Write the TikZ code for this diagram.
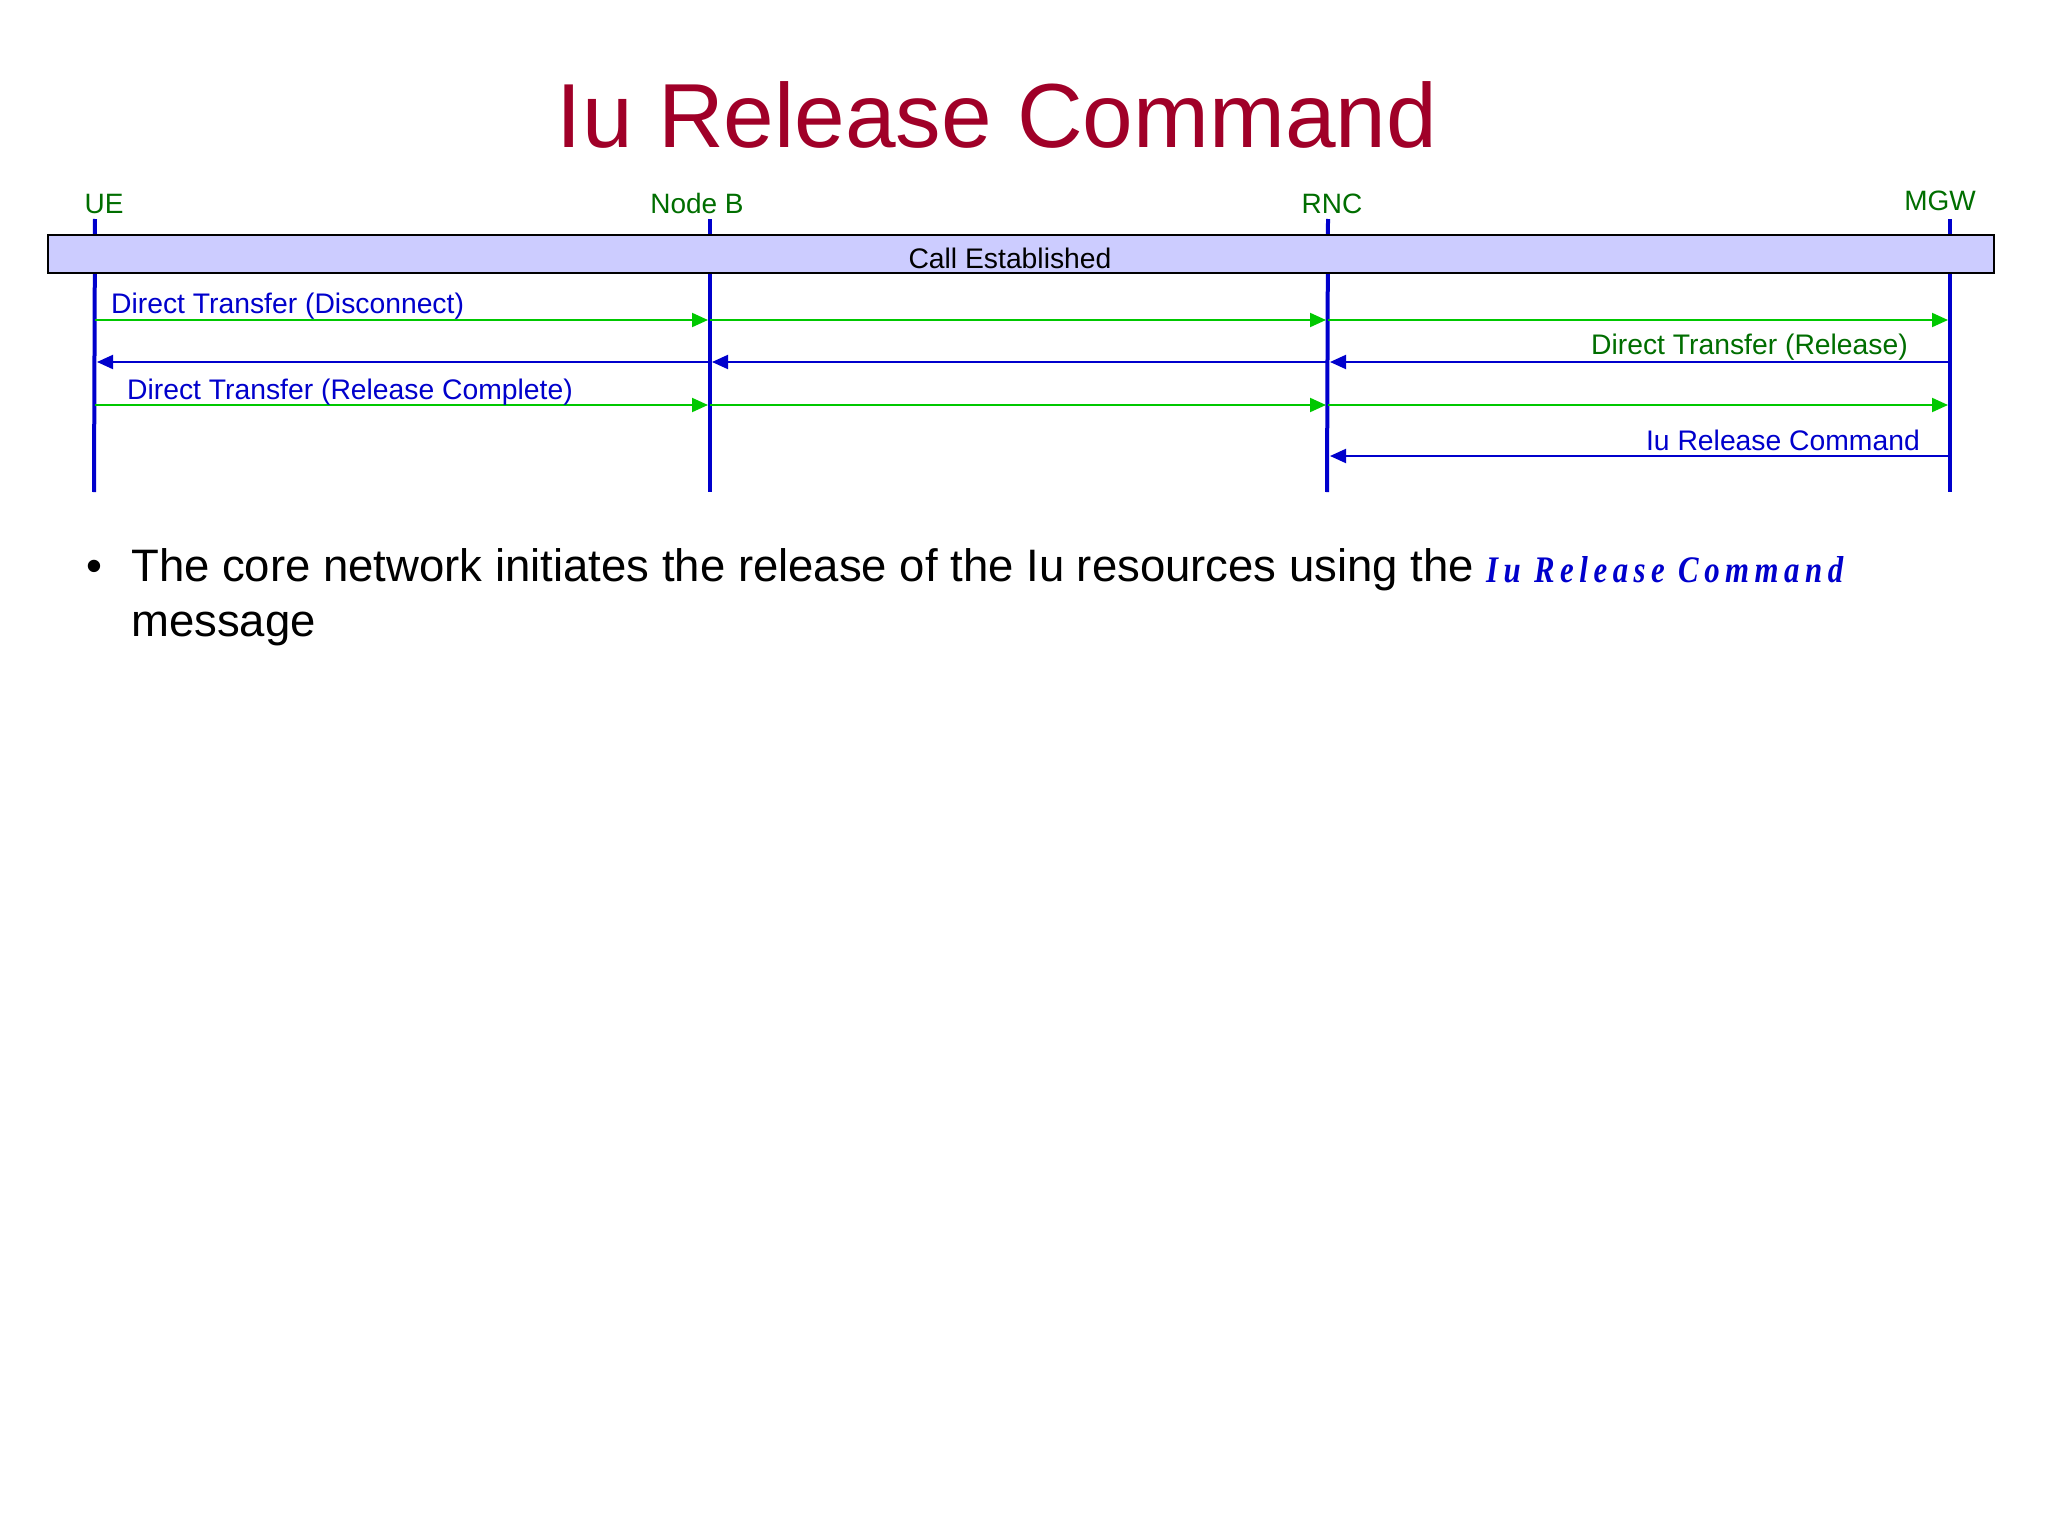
\documentclass[tikz,border=0pt]{standalone}
\usepackage{fontspec}
\setmainfont{Liberation Sans}
\newfontfamily\fancyfont[LetterSpace=18]{Liberation Serif}
\usetikzlibrary{arrows.meta}
\definecolor{titlered}{RGB}{160,0,40}
\definecolor{lifeblue}{RGB}{0,0,204}
\definecolor{msggreen}{RGB}{0,200,0}
\definecolor{lblgreen}{RGB}{0,110,0}
\definecolor{boxfill}{RGB}{204,204,255}
\begin{document}
\begin{tikzpicture}[x=1pt,y=-1pt,
  lifeline/.style={draw=lifeblue,line width=4pt},
  actor/.style={text=lblgreen,font=\fontsize{28}{32}\selectfont,inner sep=0pt,anchor=base},
  msglbl/.style={font=\fontsize{28.3}{32}\selectfont,inner sep=0pt},
  fwd/.style={draw=msggreen,line width=2pt,-{Triangle[length=16pt,width=14pt]},shorten >=2pt},
  back/.style={draw=lifeblue,line width=2pt,-{Triangle[length=16pt,width=14pt]},shorten >=2pt},
  body/.style={font=\fontsize{45.5}{55}\selectfont,inner sep=0pt,anchor=base west}
]
\useasboundingbox[fill=white] (0,0) rectangle (2048,1536);

% title
\node[text=titlered,font=\fontsize{91}{100}\selectfont,inner sep=0pt,anchor=base] (title) at (997,148) {Iu Release Command};

% actors
\node[actor] (ueL) at (104,213) {UE};
\node[actor] (nbL) at (697,213) {Node B};
\node[actor] (rncL) at (1332,213) {RNC};
\node[actor] (mgwL) at (1940,210) {MGW};

% lifelines
\coordinate (ueT) at (95,219);   \coordinate (ueB) at (94,492);
\coordinate (nbT) at (710,219);  \coordinate (nbB) at (710,492);
\coordinate (rncT) at (1328,219); \coordinate (rncB) at (1327,492);
\coordinate (mgwT) at (1950,219); \coordinate (mgwB) at (1950,492);
\draw[lifeline] (ueT) -- (ueB);
\draw[lifeline] (nbT) -- (nbB);
\draw[lifeline] (rncT) -- (rncB);
\draw[lifeline] (mgwT) -- (mgwB);

% call established box
\draw[fill=boxfill,draw=black,line width=2pt] (48,235) rectangle (1994,273);
\node[msglbl,anchor=base] (callest) at (1010,268) {Call Established};

% message rows
\foreach \n/\y in {1/320,2/362,3/405,4/456}{
  \coordinate (ue\n) at (95,\y);
  \coordinate (nb\n) at (710,\y);
  \coordinate (rnc\n) at (1328,\y);
  \coordinate (mgw\n) at (1950,\y);
}

% 1: Direct Transfer (Disconnect)
\draw[fwd] (ue1) -- (nb1);
\draw[fwd] (nb1) -- (rnc1);
\draw[fwd] (rnc1) -- (mgw1);
\node[msglbl,text=lifeblue,anchor=base west] (m1) at (111,313) {Direct Transfer (Disconnect)};

% 2: Direct Transfer (Release)
\draw[back] (mgw2) -- (rnc2);
\draw[back] (rnc2) -- (nb2);
\draw[back] (nb2) -- (ue2);
\node[msglbl,text=lblgreen,anchor=base east] (m2) at (1908,354) {Direct Transfer (Release)};

% 3: Direct Transfer (Release Complete)
\draw[fwd] (ue3) -- (nb3);
\draw[fwd] (nb3) -- (rnc3);
\draw[fwd] (rnc3) -- (mgw3);
\node[msglbl,text=lifeblue,anchor=base west] (m3) at (127,399) {Direct Transfer (Release Complete)};

% 4: Iu Release Command
\draw[back] (mgw4) -- (rnc4);
\node[msglbl,text=lifeblue,anchor=base east] (m4) at (1920,450) {Iu Release Command};

% bullet text
\node[font=\fontsize{45.5}{55}\selectfont,inner sep=0pt,anchor=base] (bul) at (94,581) {•};
\node[body] (line1) at (131,581) {The core network initiates the release of the Iu resources using the};
\node[inner sep=0pt,anchor=base west,text=lifeblue] (goth) at (1486,582) {\resizebox{357pt}{26pt}{\fontsize{40}{48}\fancyfont\bfseries\itshape Iu Release Command}};
\node[body] (line2) at (131,636) {message};
\end{tikzpicture}
\end{document}
